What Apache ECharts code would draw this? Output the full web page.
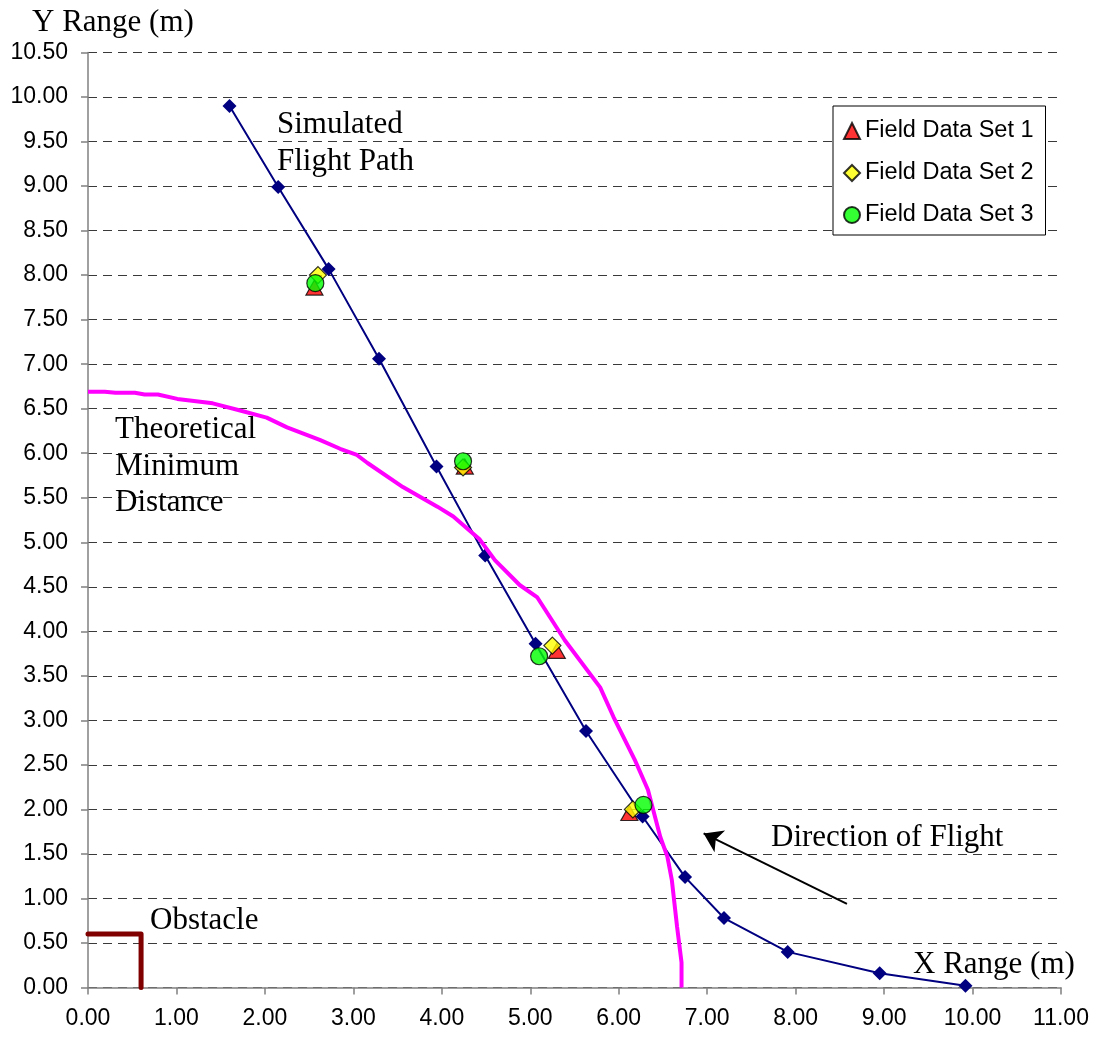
<!DOCTYPE html>
<html>
<head>
<meta charset="utf-8">
<title>Flight Path vs Theoretical Minimum Distance</title>
<script src="https://cdn.jsdelivr.net/npm/echarts@6/dist/echarts.min.js"></script>
<style>
  html, body { margin: 0; padding: 0; background: #fff; }
  #chart { width: 1100px; height: 1039px; }
</style>
</head>
<body>
<div id="chart"></div>
<script>
// Simulated flight path (marker points), metres
const pathX = [1.60, 2.15, 2.72, 3.29, 3.94, 4.49, 5.06, 5.63, 6.27, 6.75, 7.19, 7.91, 8.95, 9.92];
const pathY = [9.90, 8.99, 8.07, 7.06, 5.85, 4.85, 3.86, 2.88, 1.92, 1.24, 0.78, 0.40, 0.16, 0.02];

// Theoretical minimum distance boundary
const theoX = [0.00, 0.19, 0.31, 0.53, 0.64, 0.79, 1.01, 1.41, 1.72, 2.02, 2.25, 2.62, 2.85, 3.04, 3.16,
               3.56, 3.95, 4.13, 4.43, 4.60, 4.88, 5.08, 5.39, 5.79, 5.94, 6.18, 6.33, 6.47, 6.55, 6.60,
               6.66, 6.71, 6.71];
const theoY = [6.69, 6.69, 6.68, 6.68, 6.66, 6.66, 6.61, 6.56, 6.48, 6.40, 6.29, 6.15, 6.05, 5.98, 5.89,
               5.62, 5.40, 5.29, 5.03, 4.80, 4.52, 4.38, 3.90, 3.37, 3.04, 2.56, 2.22, 1.69, 1.47, 1.21,
               0.68, 0.28, 0.00];

// Obstacle outline
const obstacleX = [0.00, 0.60, 0.60];
const obstacleY = [0.60, 0.60, 0.00];

// Field measurements
const field1X = [2.56, 4.26, 5.30, 6.12];
const field1Y = [7.86, 5.85, 3.78, 1.96];
const field2X = [2.60, 4.24, 5.25, 6.16];
const field2Y = [8.00, 5.84, 3.84, 2.00];
const field3X = [2.57, 4.24, 5.10, 6.28];
const field3Y = [7.91, 5.91, 3.72, 2.05];

// Direction-of-flight arrow (tail -> head)
const arrowFrom = [8.58, 0.94];
const arrowTo = [6.96, 1.73];

const seriesNames = ['Field Data Set 1', 'Field Data Set 2', 'Field Data Set 3'];

const zip = (xs, ys) => xs.map((x, i) => [x, ys[i]]);

const SERIF = '"Liberation Serif", "Times New Roman", serif';
const SANS = '"Liberation Sans", Arial, sans-serif';

const chart = echarts.init(document.getElementById('chart'), null, { renderer: 'canvas' });

function note(text, x, y) {
  return {
    type: 'text', left: x, top: y - 15.5, z: 100,
    style: { text: text, font: '31px ' + SERIF, fill: '#000' }
  };
}

const option = {
  animation: false,
  backgroundColor: '#fff',
  grid: { left: 88, right: 39, top: 52.5, bottom: 51.5, containLabel: false },
  xAxis: {
    type: 'value', min: 0, max: 11, interval: 1,
    axisLine: { show: true, lineStyle: { color: '#808080', width: 1.5 } },
    axisTick: { show: true, length: 7, lineStyle: { color: '#808080', width: 1.5 } },
    axisLabel: { margin: 20, color: '#000', fontFamily: SANS, fontSize: 23,
                 formatter: v => v.toFixed(2) },
    splitLine: { show: false }
  },
  yAxis: {
    type: 'value', min: 0, max: 10.5, interval: 0.5,
    axisLine: { show: true, lineStyle: { color: '#808080', width: 1.5 } },
    axisTick: { show: true, length: 7, lineStyle: { color: '#808080', width: 1.5 } },
    axisLabel: { margin: 20, color: '#000', fontFamily: SANS, fontSize: 23,
                 formatter: v => v.toFixed(2) },
    splitLine: { show: true, lineStyle: { color: '#3a3a3a', width: 1, type: [9, 6] } }
  },
  legend: {
    data: seriesNames,
    orient: 'vertical',
    left: 833, top: 106,
    padding: [13, 12, 8, 10],
    itemGap: 18,
    itemWidth: 16, itemHeight: 16,
    backgroundColor: '#fff',
    borderColor: '#000', borderWidth: 1, borderRadius: 0,
    textStyle: { fontFamily: SANS, fontSize: 23.5, color: '#000', lineHeight: 23 },
    selectedMode: false
  },
  series: [
    {
      name: 'Simulated Flight Path', type: 'line', data: zip(pathX, pathY),
      symbol: 'diamond', symbolSize: 14, z: 3,
      lineStyle: { color: '#000080', width: 2 },
      itemStyle: { color: '#000080' }
    },
    {
      name: 'Theoretical Minimum Distance', type: 'line', data: zip(theoX, theoY),
      symbol: 'none', z: 4,
      lineStyle: { color: '#FF00FF', width: 4 }
    },
    {
      name: 'Obstacle', type: 'line', data: zip(obstacleX, obstacleY),
      symbol: 'none', z: 4,
      lineStyle: { color: '#800000', width: 5, cap: 'round', join: 'round' }
    },
    {
      name: 'Direction of Flight', type: 'line', data: [arrowFrom],
      symbol: 'none', z: 4,
      lineStyle: { width: 0 },
      markLine: {
        silent: true, animation: false,
        symbol: ['none', 'arrow'], symbolSize: 18,
        lineStyle: { color: '#000', width: 2, type: 'solid' },
        itemStyle: { color: '#000' },
        label: { show: false },
        emphasis: { disabled: true },
        data: [[{ coord: arrowFrom }, { coord: arrowTo }]]
      }
    },
    {
      name: seriesNames[0], type: 'scatter', data: zip(field1X, field1Y),
      symbol: 'triangle', symbolSize: [17, 15], z: 5,
      itemStyle: { color: '#FF0000', borderColor: '#000', borderWidth: 1.2 }
    },
    {
      name: seriesNames[1], type: 'scatter', data: zip(field2X, field2Y),
      symbol: 'diamond', symbolSize: 17, z: 6,
      itemStyle: { color: '#FFFF00', borderColor: '#000', borderWidth: 1.2 }
    },
    {
      name: seriesNames[2], type: 'scatter', data: zip(field3X, field3Y),
      symbol: 'circle', symbolSize: 17, z: 7,
      itemStyle: { color: '#00FF00', borderColor: '#000', borderWidth: 1.2 }
    }
  ],
  graphic: [
    note('Y Range (m)', 32, 23),
    note('Simulated', 277, 125),
    note('Flight Path', 277, 162),
    note('Theoretical', 115, 430),
    note('Minimum', 115, 467),
    note('Distance', 115, 503),
    note('Obstacle', 150, 921),
    note('Direction of Flight', 771, 838),
    note('X Range (m)', 913, 965)
  ]
};

chart.setOption(option);
</script>
</body>
</html>
